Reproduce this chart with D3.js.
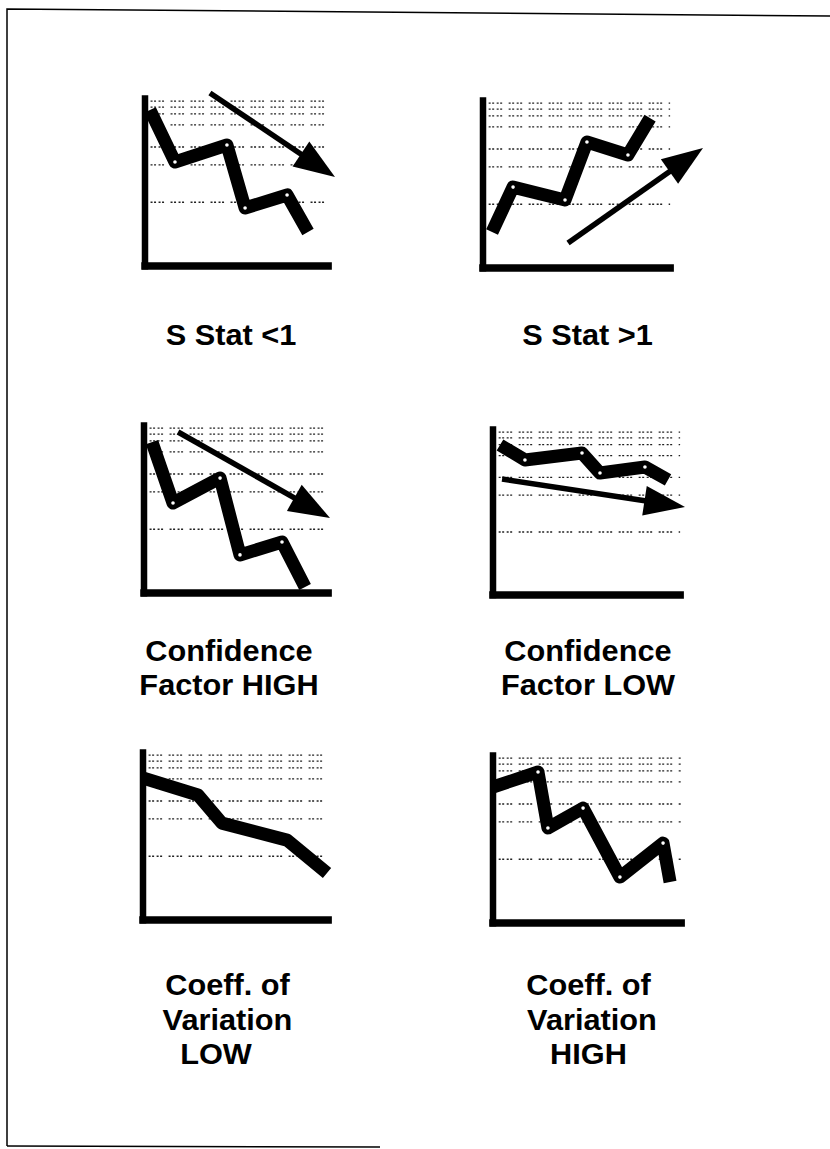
<!DOCTYPE html>
<html>
<head>
<meta charset="utf-8">
<script src="https://cdn.jsdelivr.net/npm/d3@7"></script>
<style>
  html, body { margin: 0; padding: 0; background: #fff; }
  svg { display: block; }
  text { font-family: "Liberation Sans", Arial, Helvetica, sans-serif; font-weight: bold; fill: #000; }
</style>
</head>
<body>
<svg id="chart" width="830" height="1149"></svg>
<script>
// ---------------- DATA (values in percent of each mini-chart's axes) ----------------
const gridLevels = [97, 93.5, 89.5, 83, 70, 59.5, 37.5];

const sStatLowX = [2.7, 16.2, 44.3, 54.1, 76.8, 88.1];
const sStatLowY = [91.8, 61.2, 71.2, 34.1, 41.8, 20];
const sStatLowArrow = [[35.1, 101.8], [102.7, 52.4]];

const sStatHighX = [4.8, 15.9, 43.4, 55, 76.7, 88.4];
const sStatHighY = [21.2, 47.6, 40, 74.1, 66.5, 88.2];
const sStatHighArrow = [[45, 14.7], [116.4, 70.6]];

const confHighX = [4.3, 15.6, 40.9, 51.6, 74.2, 86.6];
const confHighY = [88.8, 52.9, 67.6, 22.4, 30, 3.5];
const confHighArrow = [[18.3, 94.7], [100, 44.1]];

const confLowX = [3.7, 16.9, 47.1, 56.6, 80.4, 92.6];
const confLowY = [89.3, 80.4, 84.5, 72.6, 76.2, 68.5];
const confLowArrow = [[4.8, 69], [101.6, 52.4]];

const covLowX = [0, 29.4, 42.2, 77, 98.4];
const covLowY = [83.5, 73.5, 57, 47, 27.6];

const covHighX = [0, 23.7, 28.9, 47.4, 66.8, 89.5, 93.2];
const covHighY = [80, 88.8, 55.9, 67.6, 27, 47, 24.1];

const titles = [
  ["S Stat <1"],
  ["S Stat >1"],
  ["Confidence", "Factor HIGH"],
  ["Confidence", "Factor LOW"],
  ["Coeff. of", "Variation", "LOW"],
  ["Coeff. of", "Variation", "HIGH"]
];

// ---------------- LAYOUT ----------------
const layout = [
  { ox: 145, oy: 266, w: 185, h: 170, tx: [231], ty: [345] },
  { ox: 483, oy: 268, w: 189, h: 170, tx: [587.5], ty: [345] },
  { ox: 144, oy: 593, w: 186, h: 170, tx: [229, 229], ty: [661, 695] },
  { ox: 493, oy: 595, w: 189, h: 168, tx: [588, 588], ty: [661, 695] },
  { ox: 143, oy: 920, w: 187, h: 170, tx: [227.5, 227.5, 216], ty: [995, 1030, 1064] },
  { ox: 493, oy: 923, w: 190, h: 170, tx: [588.5, 592, 588.5], ty: [995, 1030, 1064] }
];

const panelData = [
  { x: sStatLowX, y: sStatLowY, arrow: sStatLowArrow, markers: true },
  { x: sStatHighX, y: sStatHighY, arrow: sStatHighArrow, markers: true },
  { x: confHighX, y: confHighY, arrow: confHighArrow, markers: true },
  { x: confLowX, y: confLowY, arrow: confLowArrow, markers: true },
  { x: covLowX, y: covLowY, arrow: null, markers: false },
  { x: covHighX, y: covHighY, arrow: null, markers: true }
];

const svg = d3.select("#chart");

// Page frame
svg.append("path")
  .attr("d", "M7,1146 L7,9 L830,16")
  .attr("fill", "none").attr("stroke", "#000").attr("stroke-width", 1.5);
svg.append("line")
  .attr("x1", 7).attr("y1", 1146).attr("x2", 380).attr("y2", 1147)
  .attr("stroke", "#000").attr("stroke-width", 1.5);

panelData.forEach((pd, i) => {
  const L = layout[i];
  const g = svg.append("g").attr("transform", `translate(${L.ox},${L.oy})`);
  const x = d3.scaleLinear().domain([0, 100]).range([0, L.w]);
  const y = d3.scaleLinear().domain([0, 100]).range([0, -L.h]);

  // gridlines (dotted)
  g.selectAll("line.grid").data(gridLevels).join("line")
    .attr("class", "grid")
    .attr("x1", x(3)).attr("x2", x(99))
    .attr("y1", d => y(d)).attr("y2", d => y(d))
    .attr("stroke", "#222").attr("stroke-width", 1.3)
    .attr("stroke-dasharray", "2,1.5,2,2.5,2,1.5,2,6.5");

  // axes
  const xAxis = g.append("g").call(d3.axisBottom(x).ticks(0).tickSizeOuter(0));
  xAxis.select(".domain").attr("stroke", "#000").attr("stroke-width", 7.5)
    .attr("d", `M${x(-2)},0H${x(101)}`);
  const yAxis = g.append("g").call(d3.axisLeft(y).ticks(0).tickSizeOuter(0));
  yAxis.select(".domain").attr("stroke", "#000").attr("stroke-width", 6.5)
    .attr("d", `M0,${y(-2)}V${y(100.5)}`);
  g.selectAll(".tick").remove();

  // arrow
  if (pd.arrow) {
    const [t0, t1] = pd.arrow;
    const ax0 = x(t0[0]), ay0 = y(t0[1]), ax1 = x(t1[0]), ay1 = y(t1[1]);
    const dx = ax1 - ax0, dy = ay1 - ay0, len = Math.hypot(dx, dy);
    const ux = dx / len, uy = dy / len;
    const headL = 41, headW = 15;
    const bx = ax1 - ux * headL, by = ay1 - uy * headL;
    g.append("line")
      .attr("x1", ax0).attr("y1", ay0).attr("x2", bx + ux * 2).attr("y2", by + uy * 2)
      .attr("stroke", "#000").attr("stroke-width", 5.5);
    g.append("path")
      .attr("d", `M${ax1},${ay1}L${bx - uy * headW},${by + ux * headW}L${bx + uy * headW},${by - ux * headW}Z`)
      .attr("fill", "#000");
  }

  // series line
  const pts = pd.x.map((v, k) => [v, pd.y[k]]);
  const line = d3.line().x(d => x(d[0])).y(d => y(d[1]));
  g.append("path")
    .attr("d", line(pts))
    .attr("fill", "none").attr("stroke", "#000")
    .attr("stroke-width", 13)
    .attr("stroke-linejoin", "round").attr("stroke-linecap", "butt");

  if (pd.markers) {
    g.selectAll("circle.mk").data(pts.slice(1, -1)).join("circle")
      .attr("class", "mk")
      .attr("cx", d => x(d[0])).attr("cy", d => y(d[1]))
      .attr("r", 1.8).attr("fill", "#fff");
  }

  // title
  titles[i].forEach((t, k) => {
    svg.append("text")
      .attr("transform", `translate(${L.tx[k]},${L.ty[k]}) scale(1.06,1)`)
      .attr("text-anchor", "middle")
      .attr("font-size", 29)
      .text(t);
  });
});
</script>
</body>
</html>
